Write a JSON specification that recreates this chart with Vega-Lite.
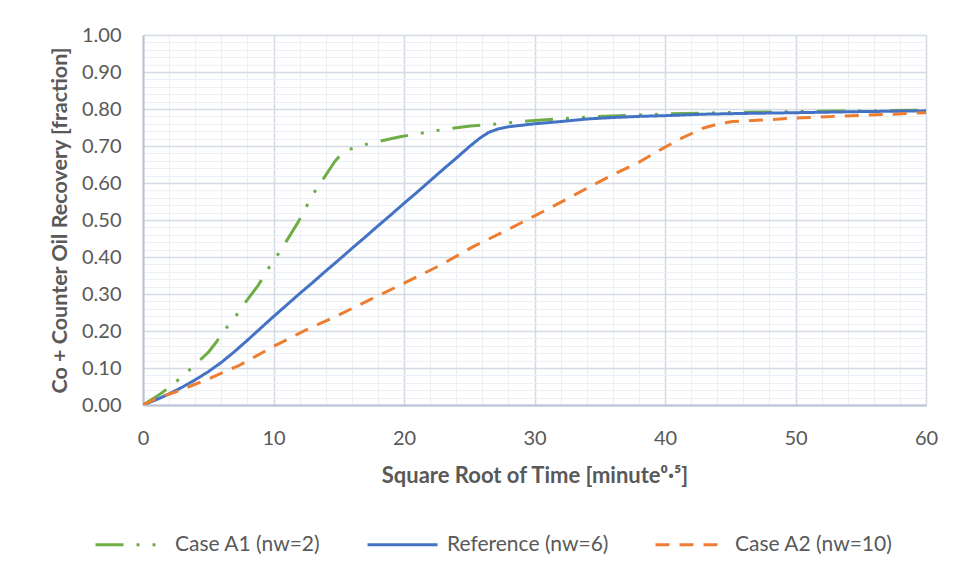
{
  "$schema": "https://vega.github.io/schema/vega-lite/v6.json",
  "autosize": "none",
  "width": 783,
  "height": 370,
  "padding": {"top": 35, "left": 143, "right": 33, "bottom": 176},
  "background": "white",
  "config": {
    "view": {"stroke": null},
    "font": "Lato",
    "axis": {"labelFont": "Lato", "titleFont": "Lato"},
    "legend": {"labelFont": "Lato"}
  },
  "data": {
    "values": [
      {"series": "Case A1 (nw=2)", "t": 0, "r": 0},
      {"series": "Case A1 (nw=2)", "t": 1, "r": 0.022},
      {"series": "Case A1 (nw=2)", "t": 1.56, "r": 0.036},
      {"series": "Case A1 (nw=2)", "t": 2.45, "r": 0.06},
      {"series": "Case A1 (nw=2)", "t": 3.35, "r": 0.088},
      {"series": "Case A1 (nw=2)", "t": 4.24, "r": 0.117},
      {"series": "Case A1 (nw=2)", "t": 5, "r": 0.142},
      {"series": "Case A1 (nw=2)", "t": 5.64, "r": 0.171},
      {"series": "Case A1 (nw=2)", "t": 6.28, "r": 0.204},
      {"series": "Case A1 (nw=2)", "t": 7.05, "r": 0.237},
      {"series": "Case A1 (nw=2)", "t": 7.69, "r": 0.27},
      {"series": "Case A1 (nw=2)", "t": 8.84, "r": 0.324},
      {"series": "Case A1 (nw=2)", "t": 9.53, "r": 0.365},
      {"series": "Case A1 (nw=2)", "t": 10.19, "r": 0.399},
      {"series": "Case A1 (nw=2)", "t": 10.8, "r": 0.432},
      {"series": "Case A1 (nw=2)", "t": 11.9, "r": 0.495},
      {"series": "Case A1 (nw=2)", "t": 13, "r": 0.568},
      {"series": "Case A1 (nw=2)", "t": 13.7, "r": 0.605},
      {"series": "Case A1 (nw=2)", "t": 14.7, "r": 0.658},
      {"series": "Case A1 (nw=2)", "t": 15.2, "r": 0.678},
      {"series": "Case A1 (nw=2)", "t": 15.6, "r": 0.688},
      {"series": "Case A1 (nw=2)", "t": 16.6, "r": 0.7},
      {"series": "Case A1 (nw=2)", "t": 17.6, "r": 0.709},
      {"series": "Case A1 (nw=2)", "t": 19.7, "r": 0.725},
      {"series": "Case A1 (nw=2)", "t": 22, "r": 0.739},
      {"series": "Case A1 (nw=2)", "t": 23.3, "r": 0.746},
      {"series": "Case A1 (nw=2)", "t": 25.1, "r": 0.754},
      {"series": "Case A1 (nw=2)", "t": 27.5, "r": 0.761},
      {"series": "Case A1 (nw=2)", "t": 30, "r": 0.769},
      {"series": "Case A1 (nw=2)", "t": 34.5, "r": 0.779},
      {"series": "Case A1 (nw=2)", "t": 38, "r": 0.784},
      {"series": "Case A1 (nw=2)", "t": 41.4, "r": 0.788},
      {"series": "Case A1 (nw=2)", "t": 46, "r": 0.791},
      {"series": "Case A1 (nw=2)", "t": 50, "r": 0.793},
      {"series": "Case A1 (nw=2)", "t": 55, "r": 0.795},
      {"series": "Case A1 (nw=2)", "t": 60, "r": 0.797},

      {"series": "Reference (nw=6)", "t": 0, "r": 0},
      {"series": "Reference (nw=6)", "t": 1, "r": 0.014},
      {"series": "Reference (nw=6)", "t": 2, "r": 0.03},
      {"series": "Reference (nw=6)", "t": 3, "r": 0.048},
      {"series": "Reference (nw=6)", "t": 4, "r": 0.068},
      {"series": "Reference (nw=6)", "t": 5, "r": 0.09},
      {"series": "Reference (nw=6)", "t": 6, "r": 0.115},
      {"series": "Reference (nw=6)", "t": 7, "r": 0.144},
      {"series": "Reference (nw=6)", "t": 8, "r": 0.175},
      {"series": "Reference (nw=6)", "t": 9, "r": 0.207},
      {"series": "Reference (nw=6)", "t": 10, "r": 0.239},
      {"series": "Reference (nw=6)", "t": 11, "r": 0.27},
      {"series": "Reference (nw=6)", "t": 12, "r": 0.301},
      {"series": "Reference (nw=6)", "t": 13, "r": 0.331},
      {"series": "Reference (nw=6)", "t": 14, "r": 0.362},
      {"series": "Reference (nw=6)", "t": 15, "r": 0.392},
      {"series": "Reference (nw=6)", "t": 16, "r": 0.423},
      {"series": "Reference (nw=6)", "t": 17, "r": 0.453},
      {"series": "Reference (nw=6)", "t": 18, "r": 0.484},
      {"series": "Reference (nw=6)", "t": 19, "r": 0.514},
      {"series": "Reference (nw=6)", "t": 20, "r": 0.545},
      {"series": "Reference (nw=6)", "t": 21, "r": 0.575},
      {"series": "Reference (nw=6)", "t": 22, "r": 0.606},
      {"series": "Reference (nw=6)", "t": 23, "r": 0.637},
      {"series": "Reference (nw=6)", "t": 24, "r": 0.667},
      {"series": "Reference (nw=6)", "t": 25, "r": 0.698},
      {"series": "Reference (nw=6)", "t": 25.8, "r": 0.721},
      {"series": "Reference (nw=6)", "t": 26.5, "r": 0.737},
      {"series": "Reference (nw=6)", "t": 27.2, "r": 0.746},
      {"series": "Reference (nw=6)", "t": 28, "r": 0.752},
      {"series": "Reference (nw=6)", "t": 29, "r": 0.756},
      {"series": "Reference (nw=6)", "t": 30, "r": 0.76},
      {"series": "Reference (nw=6)", "t": 32, "r": 0.766},
      {"series": "Reference (nw=6)", "t": 34, "r": 0.773},
      {"series": "Reference (nw=6)", "t": 36, "r": 0.777},
      {"series": "Reference (nw=6)", "t": 38, "r": 0.78},
      {"series": "Reference (nw=6)", "t": 40, "r": 0.782},
      {"series": "Reference (nw=6)", "t": 43, "r": 0.786},
      {"series": "Reference (nw=6)", "t": 46, "r": 0.788},
      {"series": "Reference (nw=6)", "t": 50, "r": 0.79},
      {"series": "Reference (nw=6)", "t": 55, "r": 0.793},
      {"series": "Reference (nw=6)", "t": 60, "r": 0.795},

      {"series": "Case A2 (nw=10)", "t": 0, "r": 0},
      {"series": "Case A2 (nw=10)", "t": 1.3, "r": 0.022},
      {"series": "Case A2 (nw=10)", "t": 2.33, "r": 0.033},
      {"series": "Case A2 (nw=10)", "t": 3.85, "r": 0.054},
      {"series": "Case A2 (nw=10)", "t": 5, "r": 0.07},
      {"series": "Case A2 (nw=10)", "t": 7.43, "r": 0.108},
      {"series": "Case A2 (nw=10)", "t": 9.98, "r": 0.158},
      {"series": "Case A2 (nw=10)", "t": 12.5, "r": 0.203},
      {"series": "Case A2 (nw=10)", "t": 15.1, "r": 0.245},
      {"series": "Case A2 (nw=10)", "t": 17.6, "r": 0.288},
      {"series": "Case A2 (nw=10)", "t": 19.7, "r": 0.324},
      {"series": "Case A2 (nw=10)", "t": 22.8, "r": 0.378},
      {"series": "Case A2 (nw=10)", "t": 25.3, "r": 0.428},
      {"series": "Case A2 (nw=10)", "t": 27.9, "r": 0.473},
      {"series": "Case A2 (nw=10)", "t": 29.9, "r": 0.509},
      {"series": "Case A2 (nw=10)", "t": 32.6, "r": 0.559},
      {"series": "Case A2 (nw=10)", "t": 34.5, "r": 0.595},
      {"series": "Case A2 (nw=10)", "t": 36, "r": 0.622},
      {"series": "Case A2 (nw=10)", "t": 38.1, "r": 0.658},
      {"series": "Case A2 (nw=10)", "t": 39.6, "r": 0.689},
      {"series": "Case A2 (nw=10)", "t": 41.1, "r": 0.718},
      {"series": "Case A2 (nw=10)", "t": 42.9, "r": 0.748},
      {"series": "Case A2 (nw=10)", "t": 44.2, "r": 0.761},
      {"series": "Case A2 (nw=10)", "t": 45.2, "r": 0.766},
      {"series": "Case A2 (nw=10)", "t": 47.3, "r": 0.77},
      {"series": "Case A2 (nw=10)", "t": 49.8, "r": 0.775},
      {"series": "Case A2 (nw=10)", "t": 53.6, "r": 0.781},
      {"series": "Case A2 (nw=10)", "t": 57.5, "r": 0.786},
      {"series": "Case A2 (nw=10)", "t": 60, "r": 0.79}
    ]
  },
  "mark": {"type": "line", "strokeWidth": 3, "strokeCap": "butt", "strokeJoin": "round", "clip": true},
  "encoding": {
    "x": {
      "field": "t",
      "type": "quantitative",
      "scale": {"domain": [0, 60], "nice": false, "zero": false},
      "axis": {
        "title": "Square Root of Time [minute⁰·⁵]",
        "titleFontSize": 22,
        "titleFontWeight": "bold",
        "titleColor": "#595959",
        "titleX": 391.5,
        "titleY": 70,
        "titleAlign": "center",
        "titleBaseline": "middle",
        "values": [0,2,4,6,8,10,12,14,16,18,20,22,24,26,28,30,32,34,36,38,40,42,44,46,48,50,52,54,56,58,60],
        "labelExpr": "datum.value % 10 === 0 ? format(datum.value, 'd') : ''",
        "labelOverlap": false,
        "labelFontSize": 20,
        "labelColor": "#595959",
        "labelPadding": 23,
        "labelFlush": false,
        "ticks": false,
        "domainColor": "#B8C2D2",
        "domainWidth": 2,
        "grid": true,
        "gridColor": {"condition": {"test": "datum.value % 10 === 0", "value": "#D5DBE4"}, "value": "#ECEFF4"},
        "gridWidth": {"condition": {"test": "datum.value % 10 === 0", "value": 1.6}, "value": 1.2}
      }
    },
    "y": {
      "field": "r",
      "type": "quantitative",
      "scale": {"domain": [0, 1], "nice": false},
      "axis": {
        "title": "Co + Counter Oil Recovery [fraction]",
        "titleFontSize": 21.5,
        "titleFontWeight": "bold",
        "titleColor": "#595959",
        "titleX": -83,
        "titleY": 185,
        "titleAngle": 270,
        "titleAlign": "center",
        "titleBaseline": "middle",
        "values": [0,0.02,0.04,0.06,0.08,0.1,0.12,0.14,0.16,0.18,0.2,0.22,0.24,0.26,0.28,0.3,0.32,0.34,0.36,0.38,0.4,0.42,0.44,0.46,0.48,0.5,0.52,0.54,0.56,0.58,0.6,0.62,0.64,0.66,0.68,0.7,0.72,0.74,0.76,0.78,0.8,0.82,0.84,0.86,0.88,0.9,0.92,0.94,0.96,0.98,1],
        "labelExpr": "round(datum.value * 100) % 10 === 0 ? format(datum.value, '.2f') : ''",
        "labelOverlap": false,
        "labelFontSize": 20,
        "labelColor": "#595959",
        "labelPadding": 22,
        "labelFlush": false,
        "ticks": false,
        "domainColor": "#B8C2D2",
        "domainWidth": 2,
        "grid": true,
        "gridColor": {"condition": {"test": "round(datum.value * 100) % 10 === 0", "value": "#D5DBE4"}, "value": "#ECEFF4"},
        "gridWidth": {"condition": {"test": "round(datum.value * 100) % 10 === 0", "value": 1.6}, "value": 1.2}
      }
    },
    "color": {
      "field": "series",
      "type": "nominal",
      "sort": null,
      "scale": {
        "domain": ["Case A1 (nw=2)", "Reference (nw=6)", "Case A2 (nw=10)"],
        "range": ["#70AD47", "#4472C4", "#ED7D31"]
      },
      "legend": {
        "title": null,
        "orient": "none",
        "direction": "horizontal",
        "legendX": -49,
        "legendY": 473,
        "symbolType": "stroke",
        "symbolSize": 4900,
        "symbolStrokeWidth": 3,
        "labelFontSize": 21,
        "labelColor": "#595959",
        "labelOffset": 8,
        "columnPadding": 40,
        "labelLimit": 300
      }
    },
    "strokeDash": {
      "field": "series",
      "type": "nominal",
      "sort": null,
      "scale": {
        "domain": ["Case A1 (nw=2)", "Reference (nw=6)", "Case A2 (nw=10)"],
        "range": [[28, 13, 3, 13, 3, 13], [1, 0], [14, 10]]
      }
    },
    "order": {"field": "t", "type": "quantitative"}
  }
}
